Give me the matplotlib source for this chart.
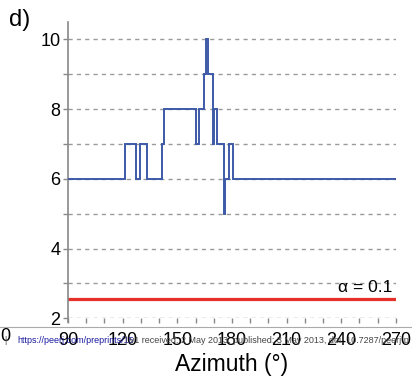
import matplotlib
matplotlib.use('Agg')
import matplotlib.pyplot as plt
from matplotlib.lines import Line2D

plt.rcParams['font.family'] = ['Liberation Sans', 'DejaVu Sans']

# step edges (azimuth, degrees) and the value on each step
edges = [90, 121.5, 127.5, 129.5, 133.5, 141.8, 142.5, 160.3, 162.1, 164.5,
         165.7, 167.0, 169.5, 170.2, 172.0, 175.6, 176.3, 178.5, 180.4, 270]
values = [6, 7, 6, 7, 6, 7, 8, 7, 8, 9, 10, 9, 7, 8, 7, 5, 6, 7, 6]

alpha_level = 2.55
alpha_label = 'α = 0.1'
xticks = [90, 120, 150, 180, 210, 240, 270]
yticks = [2, 4, 6, 8, 10]

fig = plt.figure(figsize=(4.12, 3.79), dpi=100)
ax = fig.add_axes([0.165, 0.160, 0.796, 0.782])

for y in range(2, 11):
    ax.axhline(y, color='#9a9a9a', lw=1.0, ls=(0, (3, 3)), zorder=1)

ax.stairs(values, edges, color='#3d5aa8', lw=1.4, baseline=None, zorder=3)
ax.axhline(alpha_level, color='#e8302a', lw=2.3, zorder=2)
ax.text(268, alpha_level + 0.12, alpha_label, ha='right', va='bottom', fontsize=12.5)

ax.set_xlim(90, 270)
ax.set_ylim(2, 10.5)
ax.set_xticks(xticks)
ax.set_xticks(range(90, 271, 10), minor=True)
ax.set_yticks(yticks)
ax.set_yticks([3, 5, 7, 9], minor=True)
ax.tick_params(axis='both', which='both', color='#888888', length=3.5, width=1.0,
               labelsize=13, pad=6)
ax.tick_params(axis='y', pad=2)

for s in ['top', 'right', 'bottom']:
    ax.spines[s].set_visible(False)
ax.spines['left'].set_color('#888888')
ax.spines['left'].set_linewidth(1.2)
ax.spines['left'].set_bounds(1.9, 10.5)

ax.set_xlabel('Azimuth (°)', fontsize=16.5, labelpad=3)

fig.text(0.022, 0.947, 'd)', fontsize=17, va='center', ha='left')
fig.text(0.012, 0.111, '0', fontsize=13, va='center', ha='center')

# preprint watermark
fig.add_artist(Line2D([0, 1], [0.138, 0.138], transform=fig.transFigure,
                      color='#aaaaaa', lw=0.8))
fig.text(0.010, 0.102, '|', fontsize=6.5, color='#555555', va='center', ha='left')
fig.text(0.041, 0.102, 'https://peerj.com/preprints/15', fontsize=6.5, color='#1a1aa0',
         va='center', ha='left')
fig.text(0.303, 0.102, '| v1 received: 2 May 2013, published: 3 May 2013, doi: 10.7287/peerj.p',
         fontsize=6.5, color='#444444', va='center', ha='left')

fig.savefig('out.png', dpi=100)
